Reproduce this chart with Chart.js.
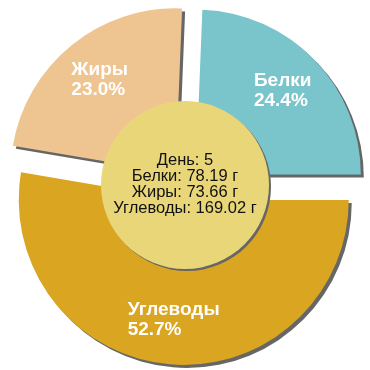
<!DOCTYPE html>
<html>
<head>
<meta charset="utf-8">
<script src="https://cdn.jsdelivr.net/npm/chart.js@4/dist/chart.umd.min.js"></script>
<style>
  html, body { margin: 0; padding: 0; background: #fff; }
  #wrap { width: 370px; height: 370px; }
</style>
</head>
<body>
<div id="wrap"><canvas id="pie"></canvas></div>
<script>
// data
const labels = ['Белки', 'Углеводы', 'Жиры'];
const grams = [78.19, 169.02, 73.66];
const colors = ['#7ac4cc', '#daa520', '#eec591'];
const dayNo = 5;

const total = grams.reduce((a, b) => a + b, 0);
const EXPLODE = 15;
// original pie runs from 3 o'clock: Белки ends exactly at the horizontal
const startRot = 90 - grams[0] / total * 360;

// draw the arcs ourselves so each slice is pushed out by the same distance, with a shadow
const explodePlugin = {
  id: 'explode',
  beforeDatasetDraw(chart, args) {
    const ctx = chart.ctx;
    ctx.save();
    ctx.shadowColor = '#666';
    ctx.shadowOffsetX = 3;
    ctx.shadowOffsetY = 3;
    ctx.shadowBlur = 0;
    args.meta.data.forEach(arc => {
      const mid = (arc.startAngle + arc.endAngle) / 2;
      ctx.save();
      ctx.translate(Math.cos(mid) * EXPLODE, Math.sin(mid) * EXPLODE);
      arc.draw(ctx);
      ctx.restore();
    });
    ctx.restore();
    return false;
  }
};

// slice labels + middle circle
const labelPlugin = {
  id: 'sliceLabels',
  afterDraw(chart) {
    const ctx = chart.ctx;
    const meta = chart.getDatasetMeta(0);
    ctx.save();
    ctx.font = 'bold 19px "Liberation Sans", Arial, sans-serif';
    ctx.fillStyle = '#fff';
    ctx.textBaseline = 'middle';
    ctx.textAlign = 'left';
    meta.data.forEach((arc, i) => {
      const mid = (arc.startAngle + arc.endAngle) / 2;
      const r = EXPLODE + arc.outerRadius * 0.73;
      const cx = arc.x + Math.cos(mid) * r;
      const cy = arc.y + Math.sin(mid) * r;
      const pct = (grams[i] / total * 100).toFixed(1) + '%';
      const w = Math.max(ctx.measureText(labels[i]).width, ctx.measureText(pct).width);
      ctx.fillText(labels[i], cx - w / 2, cy - 10);
      ctx.fillText(pct, cx - w / 2, cy + 10);
    });

    // middle circle
    const c = meta.data[0];
    ctx.shadowColor = '#666';
    ctx.shadowOffsetX = 2;
    ctx.shadowOffsetY = 2;
    ctx.shadowBlur = 0;
    ctx.beginPath();
    ctx.arc(c.x, c.y, 84, 0, Math.PI * 2);
    ctx.fillStyle = '#e8d679';
    ctx.fill();
    ctx.shadowColor = 'transparent';

    // order: Белки, Жиры, Углеводы
    const txt = ['День: ' + dayNo,
      labels[0] + ': ' + grams[0].toFixed(2) + ' г',
      labels[2] + ': ' + grams[2].toFixed(2) + ' г',
      labels[1] + ': ' + grams[1].toFixed(2) + ' г'];
    ctx.font = '16.5px "Liberation Sans", Arial, sans-serif';
    ctx.fillStyle = '#111';
    ctx.textAlign = 'center';
    txt.forEach((t, i) => ctx.fillText(t, c.x, c.y - 25 + i * 16));
    ctx.restore();
  }
};

new Chart(document.getElementById('pie'), {
  type: 'pie',
  data: {
    labels: labels,
    datasets: [{
      data: grams,
      backgroundColor: colors,
      borderWidth: 0,
      hoverOffset: 0
    }]
  },
  options: {
    responsive: true,
    maintainAspectRatio: false,
    animation: false,
    rotation: startRot,
    radius: 165,
    events: [],
    plugins: {
      legend: { display: false },
      tooltip: { enabled: false }
    }
  },
  plugins: [explodePlugin, labelPlugin]
});
</script>
</body>
</html>
